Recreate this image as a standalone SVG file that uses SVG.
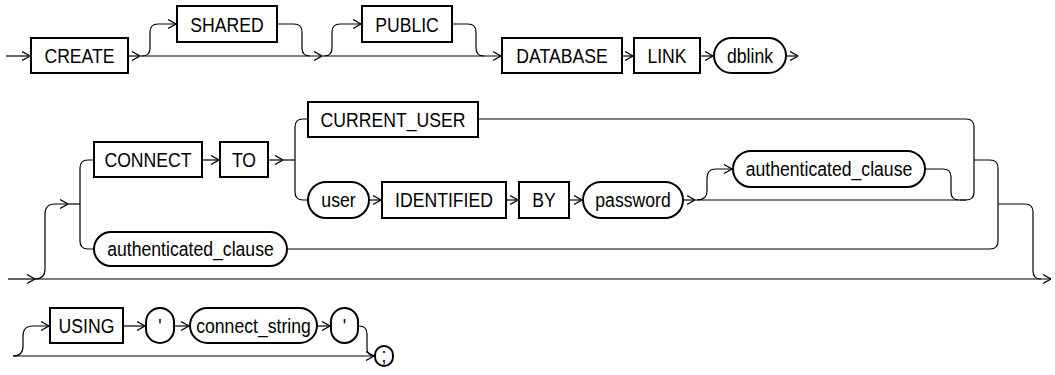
<svg xmlns="http://www.w3.org/2000/svg" width="1055" height="375" viewBox="0 0 1055 375">
<style>
.b{fill:#fff;stroke:#000;stroke-width:2}
.c{fill:none;stroke:#000;stroke-width:1.2}
.a{fill:none;stroke:#000;stroke-width:1.2;marker-end:url(#ar)}
text{font-family:"Liberation Sans",Arial,sans-serif;font-size:21px;fill:#000;text-anchor:middle}
</style>
<defs>
<marker id="ar" viewBox="0 0 8 10" refX="8" refY="5" markerWidth="8" markerHeight="10" markerUnits="userSpaceOnUse" orient="auto">
<path d="M0,0.5 L8,5 L0,9.5" fill="none" stroke="#000" stroke-width="1.2"/>
</marker>
</defs>
<g id="connectors">
<path class="a" d="M6,56 H30"/>
<path class="a" d="M128,56 H140"/>
<path class="a" d="M140,56 H322"/>
<path class="a" d="M142,56 Q150,56 150,48 V32 Q150,24 158,24 H176"/>
<path class="c" d="M277,24 H294 Q302,24 302,32 V48 Q302,56 310,56"/>
<path class="a" d="M322,56 H501"/>
<path class="a" d="M324,56 Q332,56 332,48 V32 Q332,24 340,24 H361"/>
<path class="c" d="M452,24 H468 Q476,24 476,32 V48 Q476,56 484,56"/>
<path class="a" d="M622,56 H633"/>
<path class="a" d="M700,56 H713"/>
<path class="a" d="M786,56 H798"/>
<path class="a" d="M8,279 H35"/>
<path class="a" d="M35,279 H1051"/>
<path class="a" d="M35,279 Q45,279 45,269 V214 Q45,204 55,204 H68"/>
<path class="c" d="M68,204 H80"/>
<path class="c" d="M94,160 H88 Q80,160 80,168 V241 Q80,249 88,249 H94"/>
<path class="a" d="M202,160 H219"/>
<path class="a" d="M268,160 H283"/>
<path class="c" d="M283,160 H295"/>
<path class="c" d="M308,119 H303 Q295,119 295,127 V192 Q295,200 303,200 H308"/>
<path class="c" d="M478,119 H966 Q974,119 974,127 V192 Q974,200 966,200 H960"/>
<path class="a" d="M369,200 H381"/>
<path class="a" d="M506,200 H518"/>
<path class="a" d="M569,200 H582"/>
<path class="a" d="M683,200 H695"/>
<path class="c" d="M695,200 H966"/>
<path class="a" d="M697,200 Q707,200 707,191 V178 Q707,169 716,169 H732"/>
<path class="c" d="M925,169 H943 Q951,169 951,177 V192 Q951,200 959,200"/>
<path class="c" d="M974,160 H990 Q998,160 998,168 V241 Q998,249 990,249 H287"/>
<path class="c" d="M998,204 H1025 Q1033,204 1033,212 V271 Q1033,279 1041,279"/>
<path class="a" d="M13,356 H374"/>
<path class="a" d="M13,356 Q23,356 23,346 V336 Q23,326 33,326 H49"/>
<path class="a" d="M123,326 H145"/>
<path class="a" d="M174,326 H189"/>
<path class="a" d="M317,326 H330"/>
<path class="c" d="M358,326 H359 Q367,326 367,334 V348 Q367,356 374,356"/>
</g>
<g id="n-create"><rect class="b" x="31" y="38" width="97" height="35"/><text transform="translate(79.5,63) scale(0.84,1)">CREATE</text></g>
<g id="n-shared"><rect class="b" x="177" y="6" width="100" height="36"/><text transform="translate(227,31.5) scale(0.84,1)">SHARED</text></g>
<g id="n-public"><rect class="b" x="362" y="6" width="90" height="36"/><text transform="translate(407,31.5) scale(0.84,1)">PUBLIC</text></g>
<g id="n-database"><rect class="b" x="502" y="38" width="120" height="35"/><text transform="translate(562,63) scale(0.84,1)">DATABASE</text></g>
<g id="n-link"><rect class="b" x="634" y="38" width="66" height="35"/><text transform="translate(667,63) scale(0.84,1)">LINK</text></g>
<g id="n-dblink"><rect class="b" x="714" y="38" width="72" height="35" rx="17.5"/><text transform="translate(750,63) scale(0.84,1)">dblink</text></g>
<g id="n-connect"><rect class="b" x="94" y="142" width="108" height="35"/><text transform="translate(148,167) scale(0.84,1)">CONNECT</text></g>
<g id="n-to"><rect class="b" x="220" y="142" width="48" height="35"/><text transform="translate(244,167) scale(0.84,1)">TO</text></g>
<g id="n-current-user"><rect class="b" x="308" y="102" width="170" height="35"/><text transform="translate(393,127) scale(0.84,1)">CURRENT_USER</text></g>
<g id="n-user"><rect class="b" x="308" y="182" width="61" height="36" rx="18"/><text transform="translate(338.5,207) scale(0.84,1)">user</text></g>
<g id="n-identified"><rect class="b" x="382" y="182" width="124" height="36"/><text transform="translate(444,207) scale(0.84,1)">IDENTIFIED</text></g>
<g id="n-by"><rect class="b" x="519" y="182" width="50" height="36"/><text transform="translate(544,207) scale(0.84,1)">BY</text></g>
<g id="n-password"><rect class="b" x="583" y="182" width="100" height="36" rx="18"/><text transform="translate(633,207) scale(0.84,1)">password</text></g>
<g id="n-auth1"><rect class="b" x="733" y="151" width="192" height="36" rx="18"/><text transform="translate(829,176) scale(0.84,1)">authenticated_clause</text></g>
<g id="n-auth2"><rect class="b" x="94" y="232" width="193" height="34" rx="17"/><text transform="translate(190.5,256) scale(0.84,1)">authenticated_clause</text></g>
<g id="n-using"><rect class="b" x="50" y="308" width="73" height="35"/><text transform="translate(86.5,333) scale(0.84,1)">USING</text></g>
<g id="n-q1"><rect class="b" x="146" y="308" width="28" height="35" rx="14"/><text transform="translate(160,333) scale(0.84,1)">'</text></g>
<g id="n-connect-string"><rect class="b" x="190" y="308" width="127" height="35" rx="17.5"/><text transform="translate(253.5,333) scale(0.84,1)">connect_string</text></g>
<g id="n-q2"><rect class="b" x="331" y="308" width="27" height="35" rx="13.5"/><text transform="translate(344.5,333) scale(0.84,1)">'</text></g>
<g id="n-semi"><rect class="b" x="375" y="346" width="18" height="20" rx="9"/><text transform="translate(384,362) scale(0.84,1)">;</text></g>
</svg>
